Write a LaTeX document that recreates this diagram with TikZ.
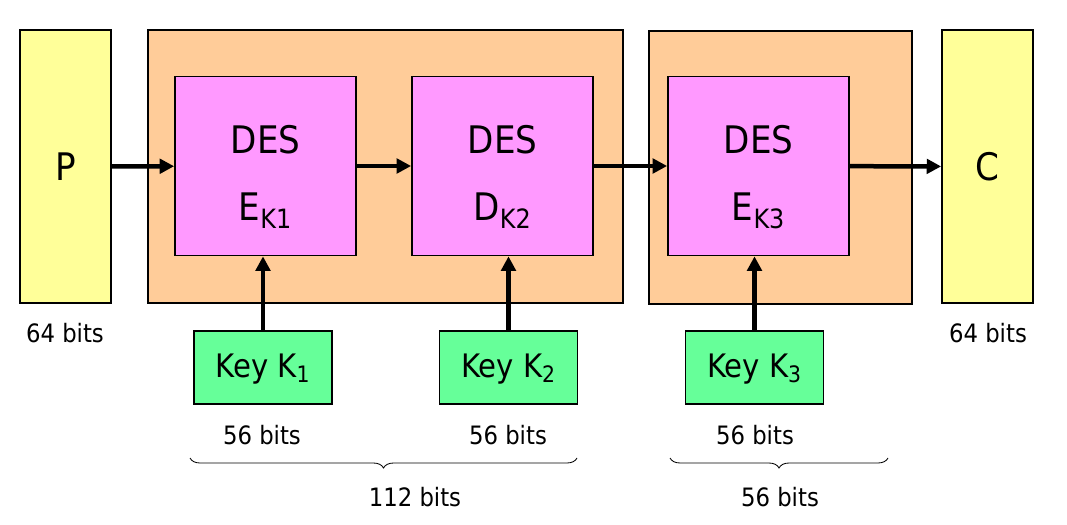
\documentclass[tikz,border=0pt]{standalone}
\usepackage{fontspec}
\setmainfont{DejaVu Sans Condensed}
\usetikzlibrary{arrows.meta,positioning,decorations.pathreplacing}
\definecolor{pyellow}{HTML}{FFFF99}
\definecolor{porange}{HTML}{FFCC99}
\definecolor{pmagenta}{HTML}{FF99FF}
\definecolor{pgreen}{HTML}{66FF99}
\tikzset{
 endbox/.style={draw,line width=1.2pt,fill=pyellow,minimum width=2.275cm,
             minimum height=6.825cm,font=\fontsize{27}{30}\selectfont},
 stage/.style={draw,line width=1.2pt,fill=porange,minimum height=6.825cm},
 desbox/.style={draw,line width=1.2pt,fill=pmagenta,minimum width=4.525cm,
             minimum height=4.475cm},
 destxt/.style={align=center,yshift=-0.27cm,font=\fontsize{27}{48}\selectfont},
 keybox/.style={draw,line width=1.2pt,fill=pgreen,minimum width=3.45cm,
             minimum height=1.825cm,text depth=0.1cm,font=\fontsize{23}{26}\selectfont},
 bits/.style={font=\fontsize{18}{21}\selectfont},
 arrow/.style={-{Triangle[length=3.6mm,width=3.6mm]},line width=3.2pt},
 brace/.style={decorate,decoration={brace,mirror,amplitude=2.5mm},line width=0.6pt}
}

\begin{document}
\begin{tikzpicture}[x=0.025cm,y=-0.025cm]
\useasboundingbox (0,0) rectangle (1067,525);
% outer stages
\node[stage,minimum width=11.875cm] (st1) at (385.5,166.5) {};
\node[stage,minimum width=6.575cm] (st2) at (780.5,167.5) {};
% plaintext and ciphertext
\node[endbox] (p) at (65.5,166.5) {P};
\node[endbox] (c) at (987.5,166.5) {C};
\node[bits] (pbits) at (65,333) {64 bits};
\node[bits] (cbits) at (988,333) {64 bits};
% DES stages
\node[desbox,label={[destxt]center:DES\\E\textsubscript{K1}}] (des1) at (265.5,166) {};
\node[desbox,label={[destxt]center:DES\\D\textsubscript{K2}}] (des2) at (502.5,166) {};
\node[desbox,label={[destxt]center:DES\\E\textsubscript{K3}}] (des3) at (758.5,166) {};
% keys
\node[keybox] (key1) at (263,367.5) {Key K\textsubscript{1}};
\node[keybox] (key2) at (508.5,367.5) {Key K\textsubscript{2}};
\node[keybox] (key3) at (754.5,367.5) {Key K\textsubscript{3}};
\node[bits] (k1bits) at (262,435) {56 bits};
\node[bits] (k2bits) at (508,435) {56 bits};
\node[bits] (k3bits) at (755,435) {56 bits};
\draw[arrow] (p)--(des1);
\draw[arrow] (des1)--(des2);
\draw[arrow] (des2)--(des3);
\draw[arrow] (des3)--(c);
\draw[arrow] (key1.north)--(key1.north |- des1.south);
\draw[arrow] (key2.north)--(key2.north |- des2.south);
\draw[arrow] (key3.north)--(key3.north |- des3.south);
% braces
\coordinate (b1l) at (190,458);
\coordinate (b1r) at (577,458);
\coordinate (b2l) at (670,458);
\coordinate (b2r) at (888,458);
\draw[brace] (b1l)--(b1r);
\draw[brace] (b2l)--(b2r);
\node[bits] (sum1) at (415,497) {112 bits};
\node[bits] (sum2) at (780,497) {56 bits};
\end{tikzpicture}
\end{document}
